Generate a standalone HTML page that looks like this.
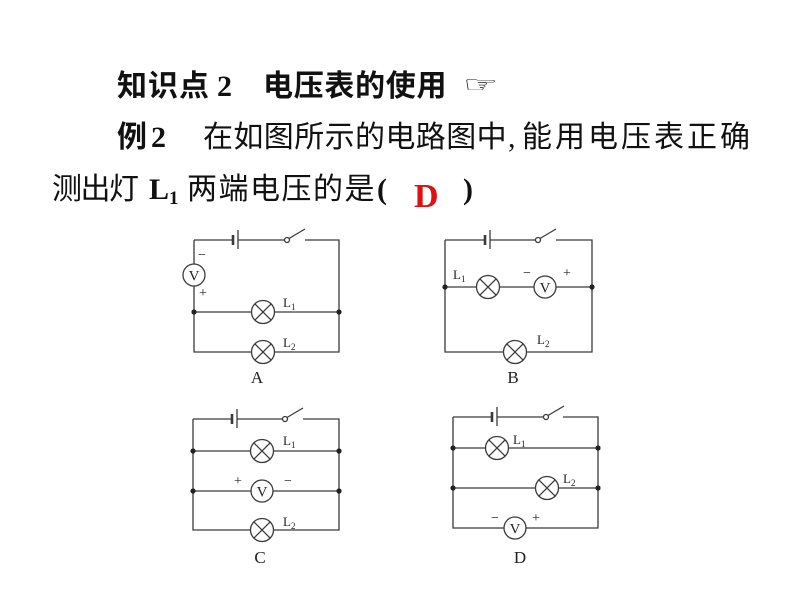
<!DOCTYPE html>
<html>
<head>
<meta charset="utf-8">
<style>
  html,body{margin:0;padding:0;background:#fff;}
  body{width:800px;height:600px;position:relative;overflow:hidden;}
  .t{position:absolute;white-space:nowrap;font-family:"Liberation Serif","Noto Sans CJK SC",serif;font-size:30px;line-height:30px;color:#111;}
  .b{font-weight:bold;}
  svg{position:absolute;left:0;top:0;}
</style>
</head>
<body>
<!-- Line 1 -->
<div class="t b" style="left:117px;top:72px;letter-spacing:1px;">知识点</div>
<div class="t b" style="left:217px;top:72px;">2</div>
<div class="t b" style="left:263px;top:72px;letter-spacing:0.7px;">电压表的使用</div>
<div class="t" style="left:463px;top:70px;font-family:'DejaVu Sans',sans-serif;font-size:30px;font-weight:bold;transform:scale(1.3,0.75);transform-origin:0 50%;">☞</div>

<!-- Line 2 -->
<div class="t b" style="left:117px;top:123px;">例</div>
<div class="t b" style="left:151px;top:123px;">2</div>
<div class="t" style="left:203px;top:123px;letter-spacing:0.4px;">在如图所示的电路图中</div>
<div class="t" style="left:508px;top:123px;">,</div>
<div class="t" style="left:522px;top:123px;letter-spacing:3px;">能用电压表正确</div>

<!-- Line 3 -->
<div class="t" style="left:52px;top:175px;letter-spacing:-1.5px;">测出灯</div>
<div class="t b" style="left:149px;top:175px;">L<span style="font-size:19px;position:relative;top:5px;">1</span></div>
<div class="t" style="left:187px;top:175px;letter-spacing:1.5px;">两端电压的是</div>
<div class="t b" style="left:377px;top:175px;">(</div>
<div class="t b" style="left:414px;top:180px;font-size:34px;line-height:34px;color:#e01010;">D</div>
<div class="t b" style="left:463px;top:175px;">)</div>

<svg width="800" height="600" viewBox="0 0 800 600" xmlns="http://www.w3.org/2000/svg">
  <g fill="none" stroke="#3a3a3a" stroke-width="1.3">
    <!-- ===== Circuit A ===== -->
    <path d="M194 240 H233 M238 240 H284.5 M305 240 H339 V352 H274.5 M251.5 352 H194 V286 M194 264 V240"/>
    <path d="M194 312 H251.5 M274.5 312 H339"/>
    <line x1="233" y1="235" x2="233" y2="245" stroke-width="2.6"/>
    <line x1="238" y1="230" x2="238" y2="249"/>
    <circle cx="287" cy="240" r="2.5" fill="#fff"/>
    <line x1="289" y1="238.5" x2="305" y2="229"/>
    <circle cx="194" cy="275" r="11" fill="#fff"/>
    <circle cx="263" cy="312" r="11.5" fill="#fff"/>
    <path d="M254.9 303.9 L271.1 320.1 M271.1 303.9 L254.9 320.1"/>
    <circle cx="263" cy="352" r="11.5" fill="#fff"/>
    <path d="M254.9 343.9 L271.1 360.1 M271.1 343.9 L254.9 360.1"/>

    <!-- ===== Circuit B ===== -->
    <path d="M445 240 H485 M490 240 H535.5 M556 240 H592 V352 H526.5 M503.5 352 H445 V240"/>
    <path d="M445 287 H476.5 M499.5 287 H534 M556 287 H592"/>
    <line x1="485" y1="235" x2="485" y2="245" stroke-width="2.6"/>
    <line x1="490" y1="230" x2="490" y2="249"/>
    <circle cx="538" cy="240" r="2.5" fill="#fff"/>
    <line x1="540" y1="238.5" x2="556" y2="229"/>
    <circle cx="488" cy="287" r="11.5" fill="#fff"/>
    <path d="M479.9 278.9 L496.1 295.1 M496.1 278.9 L479.9 295.1"/>
    <circle cx="545" cy="287" r="11" fill="#fff"/>
    <circle cx="515" cy="352" r="11.5" fill="#fff"/>
    <path d="M506.9 343.9 L523.1 360.1 M523.1 343.9 L506.9 360.1"/>

    <!-- ===== Circuit C ===== -->
    <path d="M193 419 H232 M237 419 H282.5 M303 419 H339 V530 H273.5 M250.5 530 H193 V419"/>
    <path d="M193 451 H250.5 M273.5 451 H339"/>
    <path d="M193 491 H251 M273 491 H339"/>
    <line x1="232" y1="414" x2="232" y2="424" stroke-width="2.6"/>
    <line x1="237" y1="409" x2="237" y2="428"/>
    <circle cx="285" cy="419" r="2.5" fill="#fff"/>
    <line x1="287" y1="417.5" x2="303" y2="408"/>
    <circle cx="262" cy="451" r="11.5" fill="#fff"/>
    <path d="M253.9 442.9 L270.1 459.1 M270.1 442.9 L253.9 459.1"/>
    <circle cx="262" cy="491" r="11" fill="#fff"/>
    <circle cx="262" cy="530" r="11.5" fill="#fff"/>
    <path d="M253.9 521.9 L270.1 538.1 M270.1 521.9 L253.9 538.1"/>

    <!-- ===== Circuit D ===== -->
    <path d="M453 417 H492 M497 417 H543.5 M563 417 H598 V528 H526 M504 528 H453 V417"/>
    <path d="M453 448 H485.5 M508.5 448 H598"/>
    <path d="M453 488 H535.5 M558.5 488 H598"/>
    <line x1="492" y1="412" x2="492" y2="422" stroke-width="2.6"/>
    <line x1="497" y1="407" x2="497" y2="426"/>
    <circle cx="546" cy="417" r="2.5" fill="#fff"/>
    <line x1="548" y1="415.5" x2="564" y2="406"/>
    <circle cx="497" cy="448" r="11.5" fill="#fff"/>
    <path d="M488.9 439.9 L505.1 456.1 M505.1 439.9 L488.9 456.1"/>
    <circle cx="547" cy="488" r="11.5" fill="#fff"/>
    <path d="M538.9 479.9 L555.1 496.1 M555.1 479.9 L538.9 496.1"/>
    <circle cx="515" cy="528" r="11" fill="#fff"/>
  </g>

  <g fill="#222">
    <circle cx="194" cy="312" r="2.6"/><circle cx="339" cy="312" r="2.6"/>
    <circle cx="445" cy="287" r="2.6"/><circle cx="592" cy="287" r="2.6"/>
    <circle cx="193" cy="451" r="2.6"/><circle cx="339" cy="451" r="2.6"/>
    <circle cx="193" cy="491" r="2.6"/><circle cx="339" cy="491" r="2.6"/>
    <circle cx="453" cy="448" r="2.6"/><circle cx="598" cy="448" r="2.6"/>
    <circle cx="453" cy="488" r="2.6"/><circle cx="598" cy="488" r="2.6"/>
  </g>

  <g font-family="Liberation Serif, serif" fill="#222">
    <text x="194" y="280.5" font-size="15" text-anchor="middle">V</text>
    <text x="545" y="292.5" font-size="15" text-anchor="middle">V</text>
    <text x="262" y="496.5" font-size="15" text-anchor="middle">V</text>
    <text x="515" y="533.5" font-size="15" text-anchor="middle">V</text>

    <text x="202" y="259" font-size="14" text-anchor="middle">−</text>
    <text x="203" y="297" font-size="14" text-anchor="middle">+</text>
    <text x="283" y="307" font-size="13">L<tspan font-size="9" dy="3">1</tspan></text>
    <text x="283" y="347" font-size="13">L<tspan font-size="9" dy="3">2</tspan></text>
    <text x="257" y="383" font-size="17" text-anchor="middle">A</text>

    <text x="453" y="279" font-size="13">L<tspan font-size="9" dy="3">1</tspan></text>
    <text x="527" y="277" font-size="14" text-anchor="middle">−</text>
    <text x="567" y="277" font-size="14" text-anchor="middle">+</text>
    <text x="537" y="344" font-size="13">L<tspan font-size="9" dy="3">2</tspan></text>
    <text x="513" y="383" font-size="17" text-anchor="middle">B</text>

    <text x="283" y="445" font-size="13">L<tspan font-size="9" dy="3">1</tspan></text>
    <text x="238" y="485" font-size="14" text-anchor="middle">+</text>
    <text x="288" y="485" font-size="14" text-anchor="middle">−</text>
    <text x="283" y="526" font-size="13">L<tspan font-size="9" dy="3">2</tspan></text>
    <text x="260" y="563" font-size="17" text-anchor="middle">C</text>

    <text x="513" y="444" font-size="13">L<tspan font-size="9" dy="3">1</tspan></text>
    <text x="563" y="483" font-size="13">L<tspan font-size="9" dy="3">2</tspan></text>
    <text x="495" y="522" font-size="14" text-anchor="middle">−</text>
    <text x="536" y="522" font-size="14" text-anchor="middle">+</text>
    <text x="520" y="563" font-size="17" text-anchor="middle">D</text>
  </g>
</svg>
</body>
</html>
